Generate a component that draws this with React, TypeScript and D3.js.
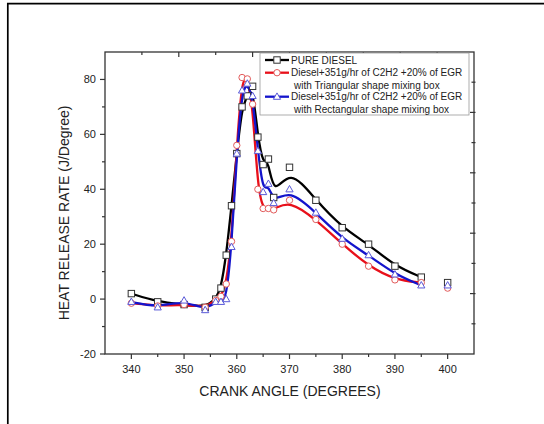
import React from "react";
import * as d3 from "d3";

const angles = [340, 345, 350, 354, 356, 357, 358, 359, 360, 361, 362, 363, 364, 365, 366, 367, 370, 375, 380, 385, 390, 395];
const pureDiesel = [2, -1, -2, -3, 0, 4, 16, 34, 53, 70, 74, 77.5, 59, 49, 51, 37, 48, 36, 26, 20, 12, 8];
const triangular = [-1.5, -2.5, -2, -3, -0.5, 1, 5.5, 21, 56, 80.7, 80.2, 71, 40, 33, 33, 32.5, 36, 29, 20, 12, 7, 6];
const rectangular = [-1, -3, -0.5, -4, -1, -1, 0, 19, 53, 76, 78.5, 74, 54, 39, 42, 35, 40, 31.5, 22, 16, 9, 5];
// stray points at 400 (not joined to the curves)
const extraAngle = 400;
const extraPure = 6;
const extraTri = 4;
const extraRect = 5;

const xTicks = [340, 350, 360, 370, 380, 390, 400];
const xMinor = [345, 355, 365, 375, 385, 395];
const yTicks = [-20, 0, 20, 40, 60, 80];
const yMinor = [-10, 10, 30, 50, 70];

const legendNames = [
  ["PURE DIESEL"],
  ["Diesel+351g/hr of C2H2 +20% of EGR", "with Triangular shape mixing box"],
  ["Diesel+351g/hr of C2H2 +20% of EGR", "with Rectangular shape mixing box"],
];

const FONT = "'Liberation Sans', Arial, sans-serif";

export default function App() {
  const L = 105, R = 474, T = 52, B = 354;
  const x = d3.scaleLinear().domain([335, 405]).range([L, R]);
  const y = d3.scaleLinear().domain([-20, 90]).range([B, T]);
  const topS = d3.scaleLinear().domain([0, 10]).range([L, R]);
  const rightS = d3.scaleLinear().domain([0, 10]).range([B, T]);

  const line = d3
    .line<number>()
    .x((_, i) => x(angles[i]))
    .y((d) => y(d))
    .curve(d3.curveBasis);

  const series = [
    { vals: pureDiesel, extra: extraPure, color: "#000000", mk: "#333333", shape: "square" },
    { vals: triangular, extra: extraTri, color: "#e8101a", mk: "#e25a5a", shape: "circle" },
    { vals: rectangular, extra: extraRect, color: "#1414cc", mk: "#5a5ad8", shape: "triangle" },
  ];

  const marker = (shape: string, cx: number, cy: number, stroke: string, key: string) => {
    if (shape === "square")
      return <rect key={key} x={cx - 3.2} y={cy - 3.2} width={6.4} height={6.4} fill="#fff" stroke={stroke} strokeWidth={1} />;
    if (shape === "circle")
      return <circle key={key} cx={cx} cy={cy} r={3.2} fill="#fff" stroke={stroke} strokeWidth={1} />;
    return (
      <path
        key={key}
        d={`M${cx},${cy - 3.8}L${cx + 3.6},${cy + 2.6}L${cx - 3.6},${cy + 2.6}Z`}
        fill="#fff"
        stroke={stroke}
        strokeWidth={1}
      />
    );
  };

  const legendRows = [60, 72.7, 96.7];

  return (
    <svg width={544} height={424} style={{ position: "absolute", left: 0, top: 0, background: "#fff" }}>
      <rect x={0} y={0} width={544} height={424} fill="#fff" />
      {/* outer frame */}
      <path d="M7.8,430V3.7H550" fill="none" stroke="#000" strokeWidth={1.7} />

      {/* data lines */}
      {series.map((s, si) => (
        <path key={"l" + si} d={line(s.vals) || ""} fill="none" stroke={s.color} strokeWidth={2.3} />
      ))}
      {series.map((s, si) => (
        <g key={"m" + si}>
          {s.vals.map((v, i) => marker(s.shape, x(angles[i]), y(v), s.mk, `${si}-${i}`))}
          {marker(s.shape, x(extraAngle), y(s.extra), s.mk, `${si}-x`)}
        </g>
      ))}

      {/* axes frame */}
      <rect x={L} y={T} width={R - L} height={B - T} fill="none" stroke="#333" strokeWidth={1.3} />
      {xTicks.map((t) => (
        <g key={"xt" + t}>
          <line x1={x(t)} x2={x(t)} y1={B} y2={B + 5} stroke="#333" strokeWidth={1.2} />
          <text x={x(t)} y={373} textAnchor="middle" fontFamily={FONT} fontSize={11} fill="#222">
            {t}
          </text>
        </g>
      ))}
      {xMinor.map((t) => (
        <line key={"xm" + t} x1={x(t)} x2={x(t)} y1={B} y2={B + 3} stroke="#333" strokeWidth={1.2} />
      ))}
      {yTicks.map((t) => (
        <g key={"yt" + t}>
          <line x1={L - 5} x2={L} y1={y(t)} y2={y(t)} stroke="#333" strokeWidth={1.2} />
          <text x={96} y={y(t)} dy="0.36em" textAnchor="end" fontFamily={FONT} fontSize={11} fill="#222">
            {t}
          </text>
        </g>
      ))}
      {yMinor.map((t) => (
        <line key={"ym" + t} x1={L - 3} x2={L} y1={y(t)} y2={y(t)} stroke="#333" strokeWidth={1.2} />
      ))}
      {topS.ticks(10).slice(1, -1).map((t) => (
        <line key={"tt" + t} x1={topS(t)} x2={topS(t)} y1={T} y2={T + (t % 2 === 0 ? 5 : 3)} stroke="#333" strokeWidth={1.2} />
      ))}
      {rightS.ticks(10).slice(1, -1).map((t) => (
        <line key={"rt" + t} x1={R - (t % 2 === 0 ? 4 : 2.5)} x2={R + 1.5} y1={rightS(t)} y2={rightS(t)} stroke="#333" strokeWidth={1.2} />
      ))}

      {/* legend */}
      <rect x={260} y={53} width={209} height={62} fill="#fff" stroke="#999" strokeWidth={0.8} />
      {series.map((s, si) => (
        <g key={"lg" + si}>
          <line x1={265} x2={289} y1={legendRows[si]} y2={legendRows[si]} stroke={s.color} strokeWidth={2.3} />
          {marker(s.shape, 277, legendRows[si], s.mk, "lgm" + si)}
          <text x={291} y={legendRows[si] + 3.6} fontFamily={FONT} fontSize={10} fill="#222">
            {legendNames[si][0]}
          </text>
          {legendNames[si][1] && (
            <text x={294} y={legendRows[si] + 16} fontFamily={FONT} fontSize={10} fill="#222">
              {legendNames[si][1]}
            </text>
          )}
        </g>
      ))}

      {/* axis titles */}
      <text x={290} y={396} textAnchor="middle" fontFamily={FONT} fontSize={14} fill="#222">
        CRANK ANGLE (DEGREES)
      </text>
      <text transform="translate(69,213) rotate(-90)" textAnchor="middle" fontFamily={FONT} fontSize={14} fill="#222">
        HEAT RELEASE RATE (J/Degree)
      </text>
    </svg>
  );
}
